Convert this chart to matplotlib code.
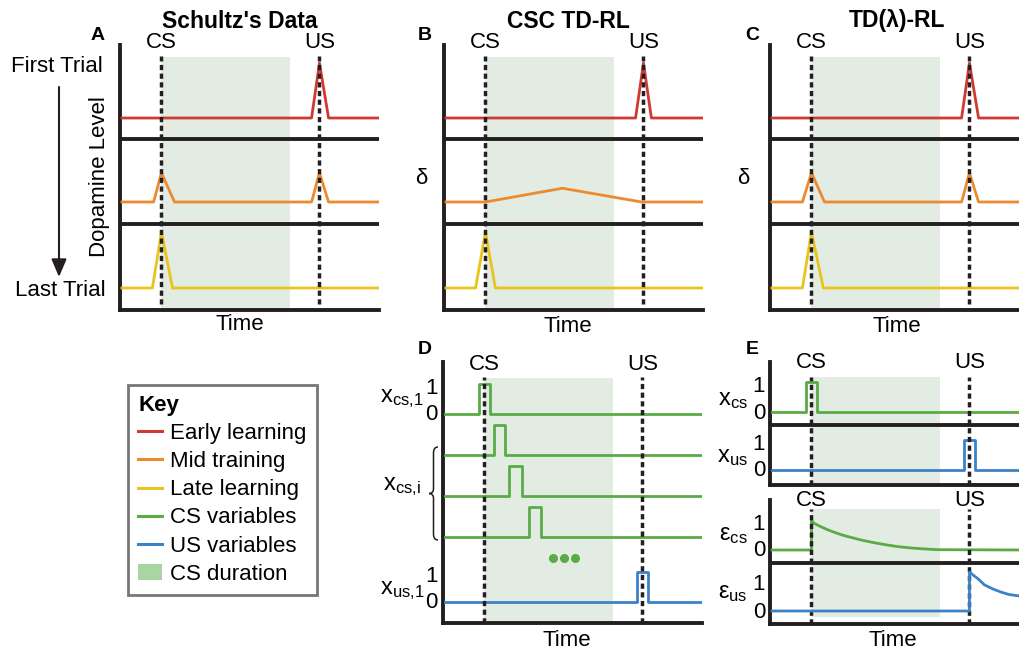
import numpy as np
import matplotlib.pyplot as plt
from matplotlib.lines import Line2D
from matplotlib.patches import Patch, PathPatch
from matplotlib.path import Path

plt.rcParams['font.family'] = ['Liberation Sans', 'DejaVu Sans']
plt.rcParams['mathtext.fontset'] = 'custom'
plt.rcParams['mathtext.rm'] = 'Liberation Sans'
plt.rcParams['mathtext.it'] = 'Liberation Sans:italic'
plt.rcParams['mathtext.bf'] = 'Liberation Sans:bold'

# ---------------- data ----------------
t_cs, t_us, cs_end, t_stop = 10, 50, 42.5, 65

# A : Schultz's data (peak heights, 1 = full response)
a_early_t = [0, 48, 50, 52.3, 65]
a_early_v = [0, 0, 1.0, 0, 0]
a_mid_t = [0, 8, 10, 13.3, 48, 50, 52.3, 65]
a_mid_v = [0, 0, 0.53, 0, 0, 0.53, 0, 0]
a_late_t = [0, 7.7, 10, 12.8, 65]
a_late_v = [0, 0, 1.02, 0, 0]

# B : CSC TD-RL
b_early_t = [0, 48, 50, 52, 65]
b_early_v = [0, 0, 1.0, 0, 0]
b_mid_t = [0, 10, 29.5, 49.5, 65]
b_mid_v = [0, 0, 0.25, 0, 0]
b_late_t = [0, 7.5, 10, 12.5, 65]
b_late_v = [0, 0, 1.02, 0, 0]

# C : TD(lambda)-RL
c_early_t = [0, 48, 50, 52.3, 65]
c_early_v = [0, 0, 1.0, 0, 0]
c_mid_t = [0, 7.7, 10, 13.3, 48, 50, 52.3, 65]
c_mid_v = [0, 0, 0.53, 0, 0, 0.53, 0, 0]
c_late_t = [0, 7.7, 10, 13, 65]
c_late_v = [0, 0, 1.02, 0, 0]

# D : CSC stimulus representation
d_cs_on = [8.5, 12.3, 16.3, 21.3]
d_cs_off = [11.5, 15.2, 19.4, 24.3]
d_us_on, d_us_off = 48.6, 51.4
d_dots_t = [27.4, 30.2, 33.0]

# E : presence representation and eligibility traces
e_cs_on, e_cs_off = 8.7, 11.5
e_us_on, e_us_off = 48.5, 51.3
eps_cs_t = [0, 10, 10, 10.5, 12, 14, 16, 18, 20, 23, 26, 29, 32, 35, 38, 42, 65]
eps_cs_v = [0, 0, 1.0, 0.9, 0.8, 0.68, 0.58, 0.49, 0.42, 0.32, 0.24, 0.17, 0.11, 0.07, 0.04, 0.01, 0]
eps_us_t = [0, 50, 50, 50.9, 52.2, 53.8, 56, 58, 60, 62.7, 65]
eps_us_v = [0, 0, 1.3, 1.2, 1.07, 0.87, 0.73, 0.63, 0.55, 0.5, 0.45]

key_labels = ['Early learning', 'Mid training', 'Late learning',
              'CS variables', 'US variables', 'CS duration']

# ---------------- style ----------------
red, orange, yellow = '#cf3a33', '#ec8a2f', '#e8c41c'
green, blue = '#5aab46', '#3b82c6'
shade, key_shade = '#e2ece3', '#a8d5a0'
ink = '#231f20'
dash = (0, (1.5, 1.0))
W, H = 1019, 653
ppt = 3.95  # pixels per time unit

fig = plt.figure(figsize=(W / 100, H / 100), dpi=100)


def px_axes(left, top, bottom, ytop):
    right = left + 65.5 * ppt
    ax = fig.add_axes([left / W, 1 - bottom / H, (right - left) / W, (bottom - top) / H])
    ax.set_xlim(-0.5, 65)
    ax.set_ylim(0, ytop)
    for s in ['top', 'right']:
        ax.spines[s].set_visible(False)
    for s in ['left', 'bottom']:
        ax.spines[s].set_linewidth(2.8)
        ax.spines[s].set_color(ink)
    ax.set_xticks([])
    ax.set_yticks([])
    ax.patch.set_visible(False)
    return ax


def events(ax, ylo, yhi, label_y):
    for t, lab in [(t_cs, 'CS'), (t_us, 'US')]:
        ax.plot([t, t], [ylo, yhi], color=ink, lw=2.5, ls=dash, zorder=5)
        ax.text(t, label_y, lab, ha='center', va='center', fontsize=16)


def pulse(on, off):
    return [0, on, on, off, off, t_stop], [0, 0, 1, 1, 0, 0]


def zero_one(ax, base, scale):
    for v, lab in [(1, '1'), (0, '0')]:
        ax.annotate(lab, xy=(0, base + v * (scale - 3) - 1), xycoords=('axes fraction', 'data'),
                    xytext=(-5, 0), textcoords='offset pixels', ha='right', va='center', fontsize=16)


# ---- A, B, C ----
rows = [192, 108, 22]
peak = 55
trials = {
    'A': [(a_early_t, a_early_v), (a_mid_t, a_mid_v), (a_late_t, a_late_v)],
    'B': [(b_early_t, b_early_v), (b_mid_t, b_mid_v), (b_late_t, b_late_v)],
    'C': [(c_early_t, c_early_v), (c_mid_t, c_mid_v), (c_late_t, c_late_v)],
}
for name, left in [('A', 120), ('B', 444), ('C', 770)]:
    ax = px_axes(left, 45, 310, 265)
    ax.axvspan(t_cs, cs_end, ymin=0, ymax=253 / 265, color=shade, lw=0, zorder=0)
    for y in [171, 86]:
        ax.axhline(y, color=ink, lw=2.8, zorder=3)
    for (t, v), base, col in zip(trials[name], rows, [red, orange, yellow]):
        ax.plot(t, base + np.array(v) * peak, color=col, lw=2.0, zorder=4)
    events(ax, 6, 254, 267.5)

# ---- D ----
axd = px_axes(443, 362, 623, 261)
axd.axvspan(t_cs, cs_end, ymin=0, ymax=245 / 261, color=shade, lw=0, zorder=0)
for base, on, off in zip([209, 168, 127, 86], d_cs_on, d_cs_off):
    t, v = pulse(on, off)
    axd.plot(t, base + np.array(v) * 30, color=green, lw=2.0, zorder=4)
t, v = pulse(d_us_on, d_us_off)
axd.plot(t, 21 + np.array(v) * 30, color=blue, lw=2.0, zorder=4)
axd.plot(d_dots_t, [65] * len(d_dots_t), 'o', color=green, ms=5.5, zorder=4)
events(axd, 0, 246, 259)
zero_one(axd, 209, 30)
zero_one(axd, 21, 30)

# ---- E (upper) ----
axe1 = px_axes(770, 362, 485, 123)
axe1.axvspan(t_cs, cs_end, ymin=0, ymax=108 / 123, color=shade, lw=0, zorder=0)
axe1.axhline(60, color=ink, lw=2.8, zorder=3)
t, v = pulse(e_cs_on, e_cs_off)
axe1.plot(t, 73 + np.array(v) * 30, color=green, lw=2.0, zorder=4)
t, v = pulse(e_us_on, e_us_off)
axe1.plot(t, 15 + np.array(v) * 30, color=blue, lw=2.0, zorder=4)
events(axe1, 0, 108, 123)
zero_one(axe1, 73, 30)
zero_one(axe1, 15, 30)

# ---- E (lower) ----
axe2 = px_axes(770, 500, 624, 124)
axe2.axvspan(t_cs, cs_end, ymin=7 / 124, ymax=115 / 124, color=shade, lw=0, zorder=0)
axe2.axhline(61, color=ink, lw=2.8, zorder=3)
axe2.plot(eps_cs_t, 74 + np.array(eps_cs_v) * 30, color=green, lw=2.0, zorder=4)
axe2.plot(eps_us_t, 13 + np.array(eps_us_v) * 30, color=blue, lw=2.0, zorder=6)
events(axe2, 0, 115, 124)
zero_one(axe2, 74, 30)
zero_one(axe2, 13, 30)

# ---- free text / annotations in pixel coordinates ----
ov = fig.add_axes([0, 0, 1, 1])
ov.set_xlim(0, W)
ov.set_ylim(H, 0)
ov.axis('off')

for x, y, s in [(240, 21, "Schultz's Data"), (568, 21, 'CSC TD-RL'), (897, 21, 'TD(λ)-RL')]:
    ov.text(x, y, s, ha='center', va='center', fontsize=16.5, fontweight='bold')
for x, y, s in [(98, 36, 'A'), (425, 36, 'B'), (752, 36, 'C'), (425, 350, 'D'), (752, 350, 'E')]:
    ov.text(x, y, s, ha='center', va='center', fontsize=14, fontweight='bold')
for x, y in [(240, 324), (568, 326), (897, 326), (567, 640), (893, 640)]:
    ov.text(x, y, 'Time', ha='center', va='center', fontsize=16)

ov.text(57, 66, 'First Trial', ha='center', va='center', fontsize=16)
ov.text(60, 291, 'Last Trial', ha='center', va='center', fontsize=16)
ov.text(100, 177, 'Dopamine Level', ha='center', va='center', rotation=90, fontsize=16)
ov.annotate('', xy=(59, 277), xytext=(59, 87),
            arrowprops=dict(arrowstyle='-|>,head_length=0.4,head_width=0.17', color=ink,
                            lw=1.5, mutation_scale=27, shrinkA=0, shrinkB=0))
ov.text(421, 178, 'δ', ha='center', va='center', fontsize=16)
ov.text(743, 178, 'δ', ha='center', va='center', fontsize=16)

for x, y, s in [(424, 402, r'$\mathrm{x}_{\mathrm{cs{,}1}}$'), (421, 490, r'$\mathrm{x}_{\mathrm{cs{,}i}}$'),
                (424, 594, r'$\mathrm{x}_{\mathrm{us{,}1}}$'), (748, 405, r'$\mathrm{x}_{\mathrm{cs}}$'),
                (748, 462, r'$\mathrm{x}_{\mathrm{us}}$'), (748, 540, r'$\mathrm{ε}_{\mathrm{cs}}$'),
                (748, 598, r'$\mathrm{ε}_{\mathrm{us}}$')]:
    ov.text(x, y, s, ha='right', va='baseline', fontsize=17)

# curly brace for x_cs,i
y0, y1 = 447, 540
ym = (y0 + y1) / 2
verts = [(438, y0), (433.5, y0), (433.5, y0 + 6), (433.5, ym - 5), (433.5, ym), (429, ym),
         (433.5, ym), (433.5, ym + 5), (433.5, y1 - 6), (433.5, y1), (438, y1)]
codes = [Path.MOVETO, Path.CURVE3, Path.CURVE3, Path.LINETO, Path.CURVE3, Path.CURVE3,
         Path.CURVE3, Path.CURVE3, Path.LINETO, Path.CURVE3, Path.CURVE3]
ov.add_patch(PathPatch(Path(verts, codes), fill=False, color=ink, lw=1.1))

# key
handles = [Line2D([], [], color=c, lw=2.2) for c in [red, orange, yellow, green, blue]]
handles.append(Patch(facecolor=key_shade, edgecolor='none'))
leg = fig.legend(handles, key_labels, title='Key', loc='upper left',
                 bbox_to_anchor=(128 / W, 1 - 385 / H), borderaxespad=0,
                 fancybox=False, edgecolor='#777777', framealpha=1, fontsize=16,
                 title_fontproperties={'weight': 'bold', 'size': 16}, alignment='left',
                 handlelength=1.1, handletextpad=0.35, labelspacing=0.32, borderpad=0.45)
leg.get_frame().set_linewidth(2)

fig.savefig('out.png', dpi=100)
